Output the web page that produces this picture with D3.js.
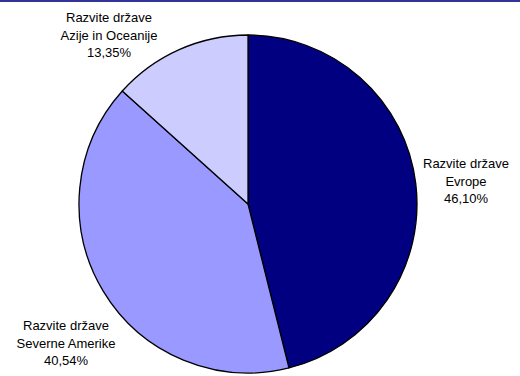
<!DOCTYPE html>
<html>
<head>
<meta charset="utf-8">
<script src="https://cdn.jsdelivr.net/npm/d3@7"></script>
<style>
  html, body { margin: 0; padding: 0; background: #fff; }
  svg { display: block; }
</style>
</head>
<body>
<script>
const categories = ["Razvite države Evrope", "Razvite države Severne Amerike", "Razvite države Azije in Oceanije"];
const labelLines = [["Razvite države", "Evrope"], ["Razvite države", "Severne Amerike"], ["Razvite države", "Azije in Oceanije"]];
const values = [46.10, 40.54, 13.35];
const valueLabels = ["46,10%", "40,54%", "13,35%"];
const colors = ["#000080", "#9999FF", "#CCCCFF"];

const W = 520, H = 376;
const cx = 248, cy = 204, R = 169;
// label anchor layout (text centre of first line)
const labelAnchor = [[466, 163], [66, 325], [109, 17]];
const lineH = 17.5;

const svg = d3.select("body").append("svg").attr("width", W).attr("height", H);
svg.append("rect").attr("x", 0).attr("y", 0).attr("width", W).attr("height", H).attr("fill", "#fff");
svg.append("rect").attr("x", 0).attr("y", 0).attr("width", W).attr("height", 2).attr("fill", "#333399");

const data = categories.map((c, i) => ({ c, v: values[i], i }));
const pie = d3.pie().value(d => d.v).sort(null).startAngle(0).endAngle(2 * Math.PI);
const arc = d3.arc().innerRadius(0).outerRadius(R);

const g = svg.append("g").attr("transform", `translate(${cx},${cy})`);
g.selectAll("path").data(pie(data)).join("path")
  .attr("d", arc)
  .attr("fill", d => colors[d.data.i])
  .attr("stroke", "#000")
  .attr("stroke-width", 1.3)
  .attr("stroke-linejoin", "round");

const lab = svg.append("g")
  .attr("font-family", "'Liberation Sans', Arial, sans-serif")
  .attr("font-size", 13)
  .attr("fill", "#000")
  .attr("text-anchor", "middle");

data.forEach((d, i) => {
  const [x, y] = labelAnchor[i];
  const lines = labelLines[i].concat([valueLabels[i]]);
  const t = lab.append("text").attr("x", x).attr("y", y + 5);
  lines.forEach((s, k) => {
    t.append("tspan").attr("x", x).attr("y", y + 5 + k * lineH).text(s);
  });
});
</script>
</body>
</html>
